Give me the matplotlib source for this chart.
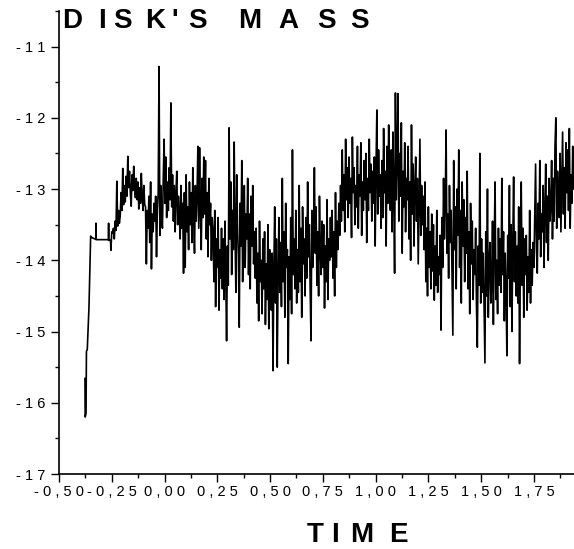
import numpy as np
import matplotlib
matplotlib.use("Agg")
import matplotlib.pyplot as plt
from matplotlib.ticker import MultipleLocator, FuncFormatter

plt.rcParams['font.family'] = ['Liberation Sans', 'DejaVu Sans']

# ---- data ----
early_t = [-0.377, -0.376, -0.372, -0.370, -0.366, -0.358, -0.350, -0.345, -0.330,
           -0.3255, -0.325, -0.3245, -0.300, -0.268, -0.2655, -0.265, -0.2645, -0.256, -0.254]
early_m = [-15.66, -16.20, -16.15, -15.28, -15.25, -14.66, -13.66, -13.68, -13.70,
           -13.70, -13.48, -13.71, -13.71, -13.71, -13.71, -13.48, -13.72, -13.72, -13.86]

noisy_t0 = -0.25
noisy_dt = 0.004
noisy_m = [
    -13.60, -13.62, -13.55, -13.70, -13.45, -13.58, -12.89, -13.52, -13.30, -13.48,
    -13.38, -13.05, -13.30, -12.71, -13.22, -12.95, -13.18, -12.82, -13.10, -12.54,
    -12.98, -12.75, -13.05, -13.24, -12.80, -13.02, -12.68, -12.93, -13.12, -12.85,
    -13.15, -12.90, -13.28, -12.98, -13.20, -12.78, -13.10, -13.30, -12.95, -13.22,
    -13.25, -14.05, -13.30, -13.55, -13.10, -13.75, -12.90, -14.12, -13.35, -13.60,
    -13.20, -13.45, -13.10, -13.95, -13.30, -13.05, -11.28, -13.65, -12.95, -13.40,
    -13.55, -12.85, -12.30, -13.20, -12.55, -13.40, -12.90, -13.30, -12.70, -13.15,
    -11.79, -13.25, -12.80, -13.45, -12.95, -13.60, -13.05, -12.75, -13.50, -13.10,
    -13.35, -13.70, -12.95, -13.55, -13.20, -14.18, -13.05, -14.10, -12.80, -13.60,
    -13.25, -13.85, -12.90, -13.50, -13.05, -13.75, -12.70, -13.40, -13.90, -12.95,
    -13.45, -13.10, -12.40, -13.55, -12.42, -13.30, -13.85, -12.85, -13.40, -12.55,
    -13.35, -12.60, -13.70, -13.05, -13.95, -12.85, -13.50, -13.20, -14.00, -13.40,
    -13.60, -14.30, -13.30, -14.65, -13.70, -14.10, -13.40, -14.70, -13.85, -14.25,
    -13.55, -14.40, -13.70, -14.55, -13.45, -14.20, -15.13, -13.80, -14.35, -12.14,
    -13.70, -12.90, -14.20, -13.30, -13.85, -12.34, -13.60, -14.45, -12.80, -13.55,
    -13.95, -14.94, -13.20, -13.80, -12.60, -14.30, -13.40, -12.95, -14.10, -13.35,
    -13.70, -12.85, -14.20, -13.35, -14.40, -13.10, -13.80, -12.95, -14.05, -13.60,
    -14.25, -13.55, -14.60, -13.90, -14.85, -13.45, -14.30, -14.00, -14.75, -13.70,
    -14.40, -13.60, -14.90, -14.05, -14.55, -13.50, -14.96, -13.85, -14.35, -14.70,
    -13.90, -15.55, -14.10, -13.25, -14.60, -13.70, -15.50, -14.20, -13.40, -14.45,
    -13.75, -14.65, -12.85, -14.30, -13.60, -14.80, -13.20, -14.10, -13.85, -15.45,
    -13.95, -14.55, -13.40, -14.75, -12.45, -14.20, -13.70, -14.40, -13.30, -14.60,
    -13.85, -14.45, -12.95, -14.30, -13.55, -14.80, -13.25, -14.05, -13.70, -14.50,
    -13.40, -14.25, -12.90, -13.95, -13.50, -14.40, -15.13, -13.30, -14.10, -13.60,
    -12.70, -13.90, -13.25, -14.35, -13.60, -14.50, -13.10, -13.85, -14.20, -13.45,
    -14.10, -13.50, -14.67, -13.80, -14.30, -13.15, -14.55, -13.70, -14.00, -13.40,
    -13.95, -13.30, -14.25, -13.60, -14.50, -13.05, -14.10, -13.45, -13.85, -13.20,
    -13.65, -12.95, -13.45, -12.45, -13.30, -12.80, -13.60, -12.30, -13.15, -12.70,
    -13.40, -12.55, -13.20, -12.85, -13.68, -12.27, -13.05, -12.70, -13.50, -12.95,
    -13.25, -12.40, -13.55, -12.80, -13.10, -12.35, -13.65, -12.90, -13.30, -12.60,
    -13.15, -12.50, -13.75, -12.85, -13.30, -12.30, -13.05, -12.65, -13.45, -12.75,
    -13.20, -12.55, -13.80, -12.70, -11.89, -13.35, -12.45, -13.10, -12.80, -13.55,
    -12.60, -13.40, -12.15, -13.05, -12.75, -13.80, -12.40, -13.20, -12.10, -13.00,
    -13.30, -12.45, -13.60, -12.20, -13.05, -14.18, -11.65, -13.15, -12.60, -11.66,
    -13.45, -12.50, -13.10, -12.07, -13.90, -12.75, -13.25, -12.35, -13.60, -12.85,
    -13.15, -12.40, -13.70, -12.90, -14.00, -12.10, -13.35, -12.65, -13.80, -13.00,
    -12.55, -13.45, -12.85, -14.05, -13.20, -12.30, -13.65, -12.95, -13.50, -13.10,
    -13.85, -12.90, -14.30, -13.55, -14.50, -13.25, -14.10, -13.60, -14.40, -13.35,
    -14.15, -13.50, -14.56, -13.80, -14.35, -13.30, -14.45, -13.95, -14.20, -13.65,
    -14.98, -13.40, -14.10, -12.85, -13.70, -13.20, -12.17, -13.90, -13.35, -14.25,
    -12.95, -13.75, -13.30, -14.20, -15.05, -12.60, -13.85, -13.25, -14.40, -13.00,
    -13.65, -12.45, -14.10, -13.30, -14.60, -12.90, -13.80, -13.15, -14.30, -13.40,
    -13.90, -12.75, -14.40, -13.60, -14.75, -13.20, -14.05, -13.45, -14.55, -13.85,
    -14.20, -13.55, -14.65, -15.22, -13.80, -14.35, -12.50, -14.60, -13.70, -14.45,
    -13.90, -14.70, -15.44, -13.60, -14.50, -13.00, -14.80, -14.05, -13.75, -14.60,
    -14.30, -13.45, -14.90, -13.80, -12.90, -14.55, -14.00, -14.75, -13.55, -14.35,
    -13.70, -14.45, -12.85, -14.20, -13.60, -14.85, -13.90, -14.40, -15.34, -13.65,
    -14.25, -12.95, -14.65, -13.50, -15.00, -13.75, -12.83, -14.30, -13.60, -14.50,
    -13.80, -14.60, -13.25, -15.45, -13.95, -12.90, -14.35, -13.55, -14.80, -13.70,
    -14.20, -13.65, -14.70, -13.95, -14.45, -13.30, -14.60, -13.85, -14.35, -13.75,
    -14.10, -13.40, -12.65, -13.85, -14.18, -13.20, -13.70, -12.60, -13.95, -13.35,
    -13.60, -12.95, -14.10, -13.30, -12.65, -13.75, -13.10, -14.00, -12.85, -13.45,
    -13.25, -12.60, -13.70, -12.85, -13.45, -12.40, -12.00, -13.55, -12.75, -13.20,
    -13.40, -12.50, -13.60, -12.90, -12.20, -13.35, -12.70, -13.55, -12.35, -13.05,
    -12.45, -13.30, -12.15, -13.55, -12.80, -13.20, -12.40, -13.00,
]

title_letters = ['D', 'I', 'S', 'K', "'", 'S', 'M', 'A', 'S', 'S']
xlabel_letters = ['T', 'I', 'M', 'E']

# ---- build series ----
noisy_t = noisy_t0 + noisy_dt * np.arange(len(noisy_m))
t_all = np.concatenate([np.array(early_t), noisy_t])
m_all = np.concatenate([np.array(early_m), np.array(noisy_m)])

W, H = 574, 549
fig = plt.figure(figsize=(W / 100, H / 100), dpi=100)
ax = fig.add_axes([59 / W, (H - 474) / H, (W - 59) / W, (474 - 11) / H])
ax.plot(t_all, m_all, color='black', linewidth=1.2)

ax.set_xlim(-0.5, 1.94)
ax.set_ylim(-17, -10.5)

for s in ['top', 'right']:
    ax.spines[s].set_visible(False)
for s in ['left', 'bottom']:
    ax.spines[s].set_linewidth(1.2)

ax.xaxis.set_major_locator(MultipleLocator(0.25))
ax.xaxis.set_minor_locator(MultipleLocator(0.125))
ax.yaxis.set_major_locator(MultipleLocator(1))
ax.yaxis.set_minor_locator(MultipleLocator(0.5))


def spaced(s):
    return ' '.join(list(s))


ax.xaxis.set_major_formatter(FuncFormatter(lambda v, p: spaced(f"{v:.2f}".replace('.', ','))))
ax.yaxis.set_major_formatter(FuncFormatter(lambda v, p: spaced(f"{v:.0f}")))

ax.tick_params(which='major', direction='out', length=6, width=1.0, labelsize=10.5)
ax.tick_params(which='minor', direction='out', length=3, width=1.0)
ax.tick_params(axis='x', which='major', pad=2)
ax.tick_params(axis='y', which='major', pad=4)

# title letters placed at measured centres (pixels)
title_x = [72.5, 102.5, 122.5, 155, 175, 197, 250, 288, 326, 359]
for ch, xc in zip(title_letters, title_x):
    fig.text(xc / W, 1 - 28.5 / H, ch, fontsize=20, fontweight='bold',
             ha='center', va='baseline')

xl_x = [315, 335, 361.5, 398]
for ch, xc in zip(xlabel_letters, xl_x):
    fig.text(xc / W, 1 - 542.5 / H, ch, fontsize=20, fontweight='bold',
             ha='center', va='baseline')

fig.savefig('out.png', dpi=100)
